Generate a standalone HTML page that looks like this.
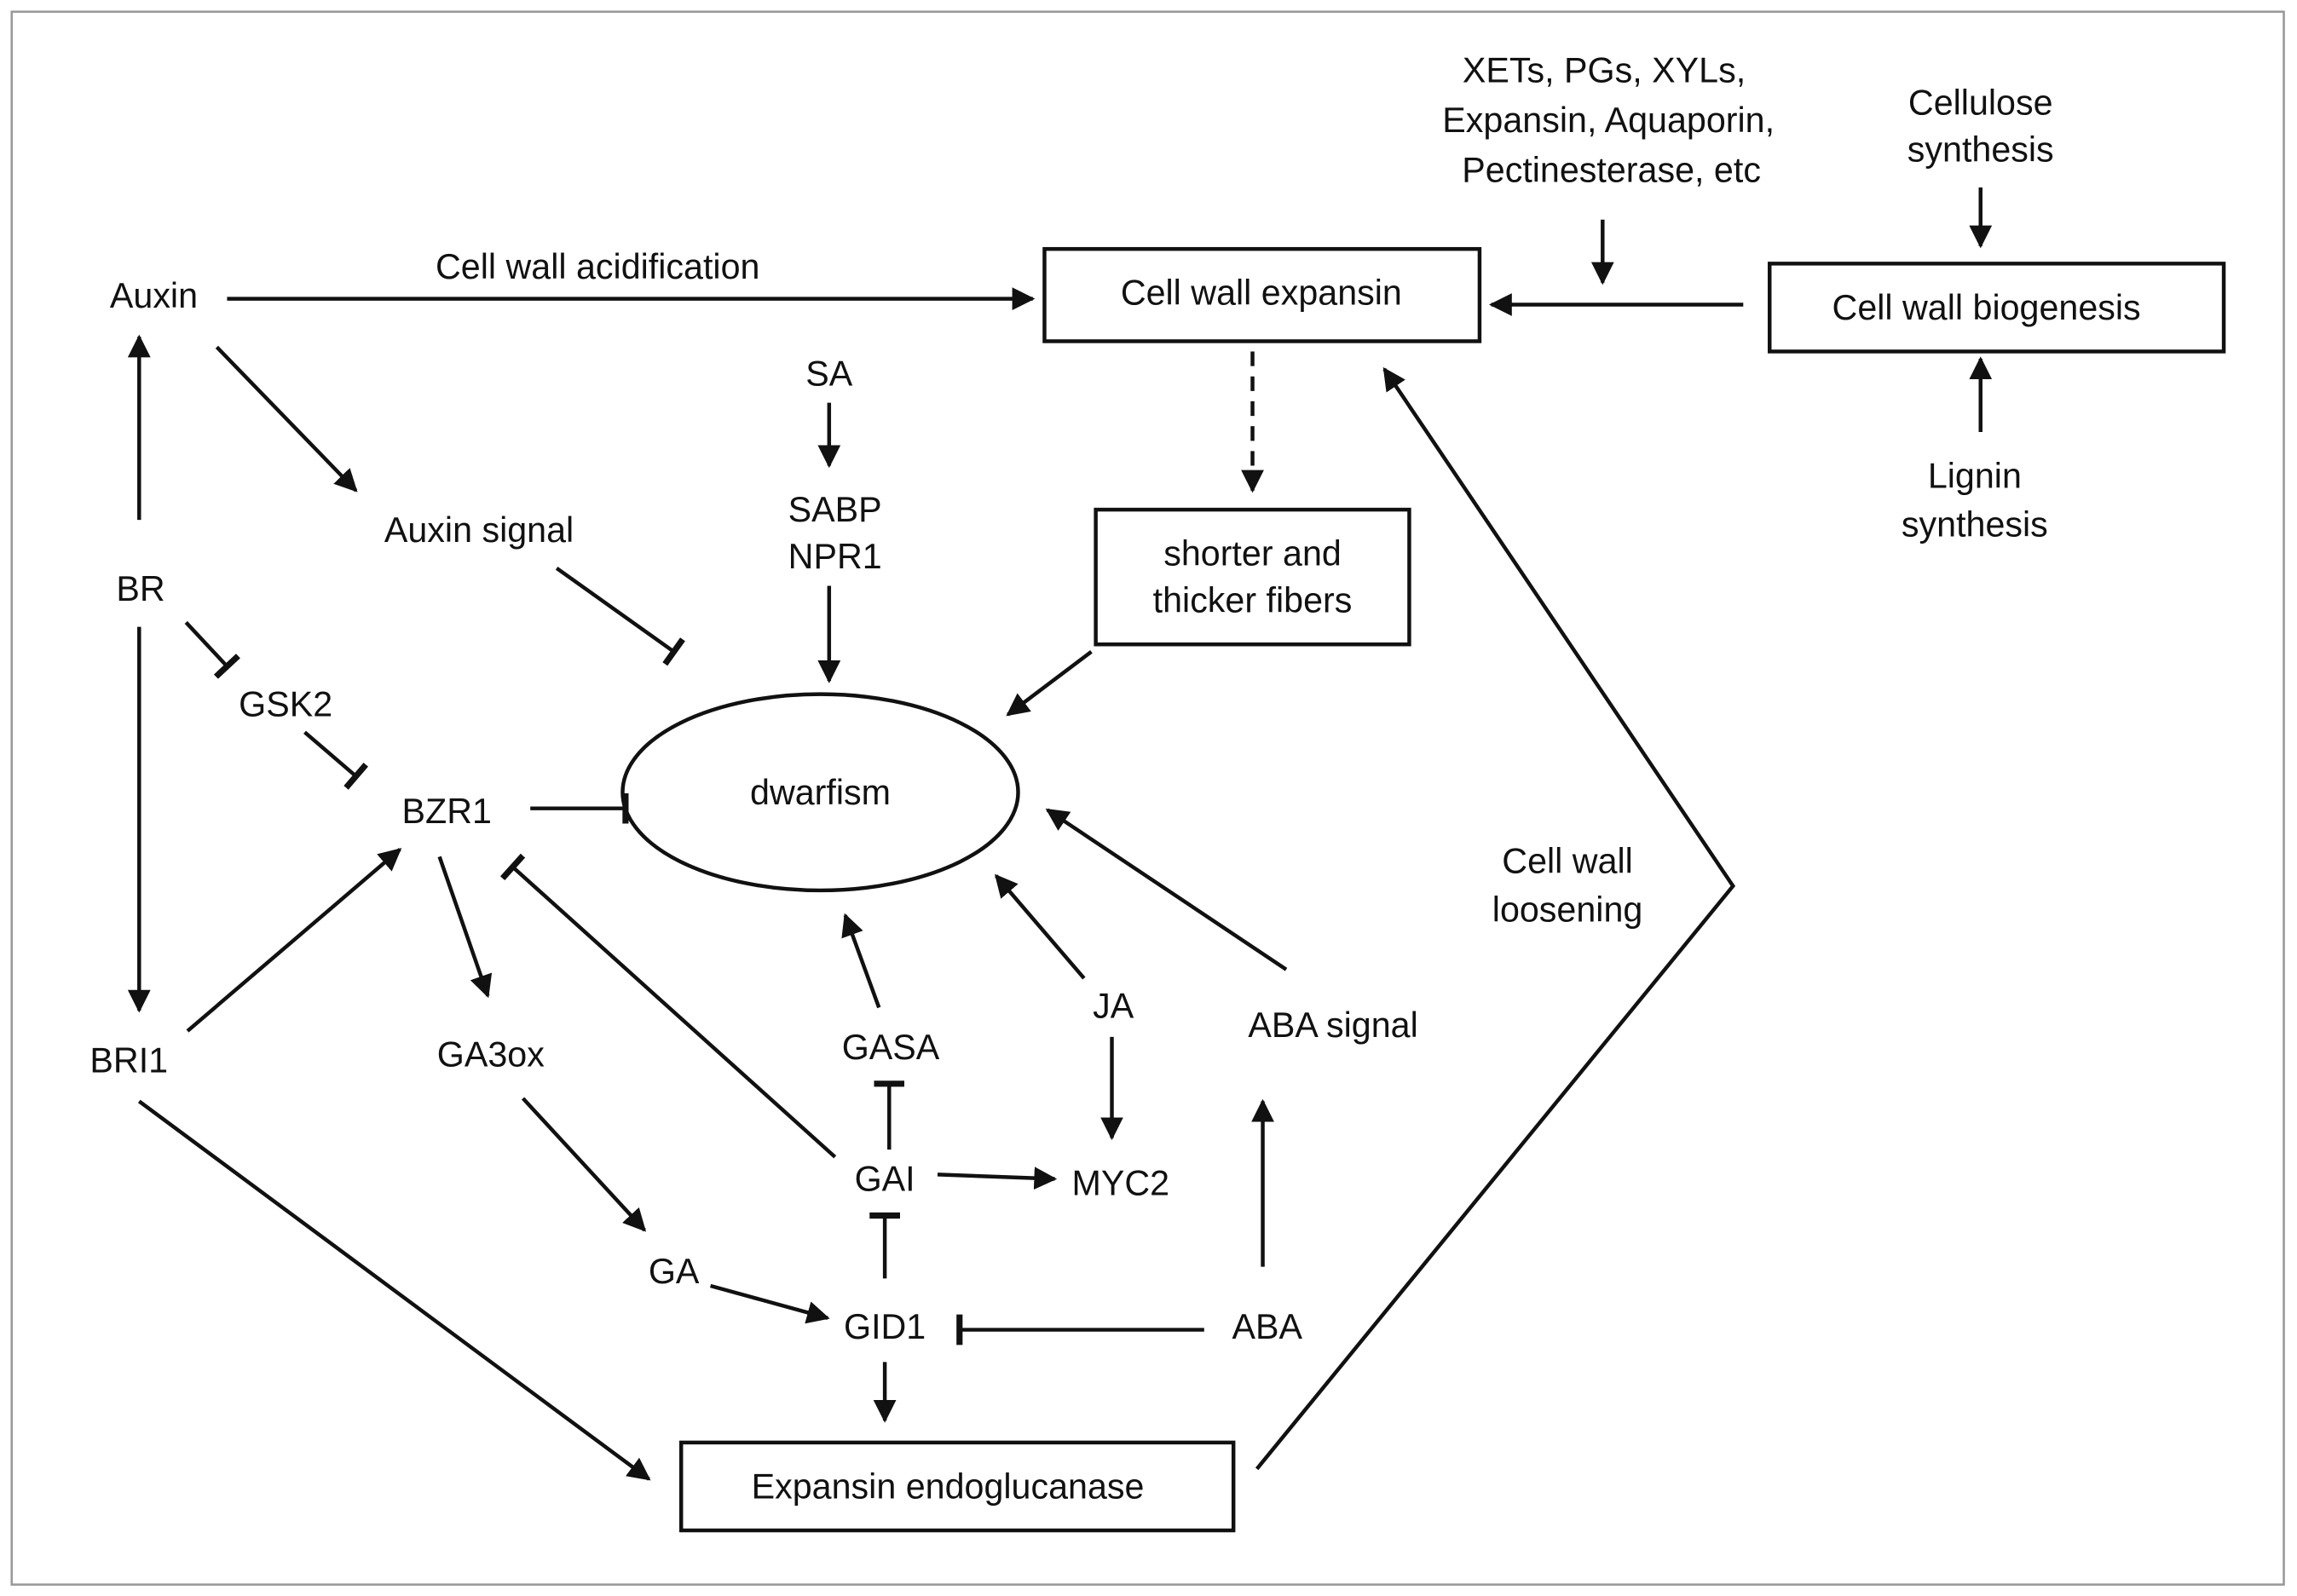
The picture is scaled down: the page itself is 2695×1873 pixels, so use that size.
<!DOCTYPE html>
<html><head><meta charset="utf-8"><style>
html,body{margin:0;padding:0;background:#fff;}
svg{display:block;}
text{font-family:"Liberation Sans",Arial,sans-serif;font-size:24px;fill:#111;text-anchor:middle;dominant-baseline:central;}
.l{stroke:#111;stroke-width:2.6;fill:none;}
</style></head><body>
<svg width="2695" height="1873" viewBox="0 0 1568 1089.8" preserveAspectRatio="none" xmlns="http://www.w3.org/2000/svg">
<defs>
<marker id="a" viewBox="0 0 10 10" refX="9" refY="5" markerWidth="6" markerHeight="6" orient="auto" markerUnits="strokeWidth"><path d="M0,0 L10,5 L0,10 z" fill="#111"/></marker>
<marker id="t" viewBox="0 0 4 20" refX="2" refY="10" markerWidth="2" markerHeight="8" orient="auto" markerUnits="strokeWidth"><rect x="0" y="0" width="4" height="20" fill="#111"/></marker>
</defs>
<rect x="8" y="8" width="1551" height="1074" fill="none" stroke="#999" stroke-width="1.5"/>

<rect x="713" y="170" width="297" height="63" class="l"/>
<rect x="1208" y="180" width="310" height="60" class="l"/>
<rect x="748" y="348" width="214" height="92" class="l"/>
<rect x="465" y="985" width="377" height="60" class="l"/>
<ellipse cx="560" cy="541" rx="135" ry="67" class="l"/>

<text x="105" y="202">Auxin</text>
<text x="408" y="182">Cell wall acidification</text>
<text x="861" y="200">Cell wall expansin</text>
<text x="1095" y="48">XETs, PGs, XYLs,</text>
<text x="1098" y="82">Expansin, Aquaporin,</text>
<text x="1100" y="116">Pectinesterase, etc</text>
<text x="1352" y="70">Cellulose</text>
<text x="1352" y="102">synthesis</text>
<text x="1356" y="210">Cell wall biogenesis</text>
<text x="1348" y="325">Lignin</text>
<text x="1348" y="358">synthesis</text>
<text x="566" y="255">SA</text>
<text x="570" y="348">SABP</text>
<text x="570" y="380">NPR1</text>
<text x="855" y="378">shorter and</text>
<text x="855" y="410">thicker fibers</text>
<text x="327" y="362">Auxin signal</text>
<text x="560" y="541">dwarfism</text>
<text x="96" y="402">BR</text>
<text x="195" y="481">GSK2</text>
<text x="305" y="554">BZR1</text>
<text x="88" y="724">BRI1</text>
<text x="335" y="720">GA3ox</text>
<text x="460" y="868">GA</text>
<text x="604" y="906">GID1</text>
<text x="865" y="906">ABA</text>
<text x="910" y="700">ABA signal</text>
<text x="760" y="687">JA</text>
<text x="765" y="808">MYC2</text>
<text x="604" y="805">GAI</text>
<text x="608" y="715">GASA</text>
<text x="647" y="1015">Expansin endoglucanase</text>
<text x="1070" y="588">Cell wall</text>
<text x="1070" y="621">loosening</text>

<line x1="155" y1="204" x2="705" y2="204" class="l" marker-end="url(#a)"/>
<line x1="1094" y1="150" x2="1094" y2="193" class="l" marker-end="url(#a)"/>
<line x1="1190" y1="208" x2="1018" y2="208" class="l" marker-end="url(#a)"/>
<line x1="1352" y1="128" x2="1352" y2="168" class="l" marker-end="url(#a)"/>
<line x1="1352" y1="295" x2="1352" y2="245" class="l" marker-end="url(#a)"/>
<line x1="566" y1="275" x2="566" y2="318" class="l" marker-end="url(#a)"/>
<line x1="566" y1="400" x2="566" y2="465" class="l" marker-end="url(#a)"/>
<line x1="855" y1="240" x2="855" y2="335" class="l" stroke-dasharray="10,7" marker-end="url(#a)"/>
<line x1="745" y1="445" x2="688" y2="488" class="l" marker-end="url(#a)"/>
<line x1="148" y1="237" x2="243" y2="335" class="l" marker-end="url(#a)"/>
<line x1="95" y1="355" x2="95" y2="230" class="l" marker-end="url(#a)"/>
<line x1="95" y1="428" x2="95" y2="690" class="l" marker-end="url(#a)"/>
<line x1="128" y1="704" x2="273" y2="580" class="l" marker-end="url(#a)"/>
<line x1="300" y1="585" x2="333" y2="680" class="l" marker-end="url(#a)"/>
<line x1="357" y1="750" x2="440" y2="840" class="l" marker-end="url(#a)"/>
<line x1="485" y1="878" x2="565" y2="900" class="l" marker-end="url(#a)"/>
<line x1="862" y1="865" x2="862" y2="752" class="l" marker-end="url(#a)"/>
<line x1="878" y1="662" x2="715" y2="553" class="l" marker-end="url(#a)"/>
<line x1="759" y1="708" x2="759" y2="777" class="l" marker-end="url(#a)"/>
<line x1="740" y1="668" x2="680" y2="598" class="l" marker-end="url(#a)"/>
<line x1="640" y1="802" x2="720" y2="805" class="l" marker-end="url(#a)"/>
<line x1="600" y1="688" x2="577" y2="625" class="l" marker-end="url(#a)"/>
<line x1="604" y1="930" x2="604" y2="970" class="l" marker-end="url(#a)"/>
<line x1="95" y1="752" x2="443" y2="1010" class="l" marker-end="url(#a)"/>
<polyline points="858,1003 1183,605 945,252" class="l" marker-end="url(#a)"/>

<line x1="380" y1="388" x2="460" y2="445" class="l" marker-end="url(#t)"/>
<line x1="127" y1="425" x2="155" y2="455" class="l" marker-end="url(#t)"/>
<line x1="208" y1="500" x2="243" y2="530" class="l" marker-end="url(#t)"/>
<line x1="362" y1="552" x2="427" y2="552" class="l" marker-end="url(#t)"/>
<line x1="570" y1="790" x2="350" y2="592" class="l" marker-end="url(#t)"/>
<line x1="822" y1="908" x2="655" y2="908" class="l" marker-end="url(#t)"/>
<line x1="604" y1="873" x2="604" y2="830" class="l" marker-end="url(#t)"/>
<line x1="607" y1="785" x2="607" y2="740" class="l" marker-end="url(#t)"/>
</svg>
</body></html>
